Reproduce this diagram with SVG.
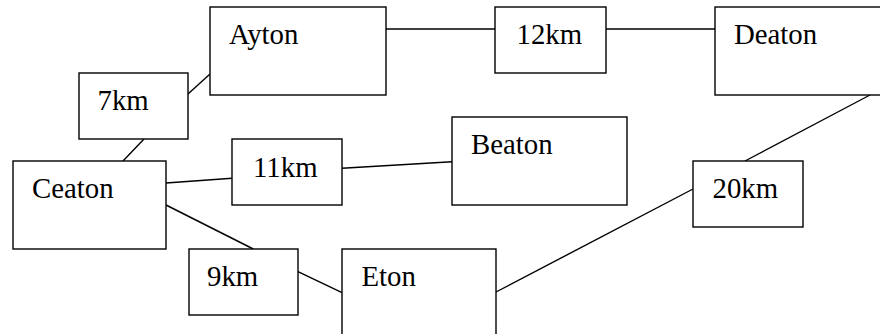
<svg xmlns="http://www.w3.org/2000/svg" width="880" height="334" viewBox="0 0 880 334">
<style>
rect{fill:#fff;stroke:#000;stroke-width:1.4}
line{stroke:#000;stroke-width:1.4}
text{font-family:"Liberation Serif","Times New Roman",serif;font-size:28.8px;fill:#000}
</style>
<rect x="0" y="0" width="880" height="334" style="stroke:none"/>
<g id="connectors">
<line x1="188" y1="94" x2="210" y2="74"/>
<line x1="144" y1="139" x2="123" y2="161"/>
<line x1="386" y1="29" x2="495" y2="29"/>
<line x1="606" y1="29" x2="715" y2="29"/>
<line x1="166" y1="183" x2="232" y2="178.3"/>
<line x1="342" y1="168.3" x2="452" y2="161.7"/>
<line x1="870" y1="95" x2="745" y2="161"/>
<line x1="693" y1="189" x2="496" y2="292"/>
<line x1="166" y1="205" x2="253.3" y2="249"/>
<line x1="298" y1="271.7" x2="342" y2="292.7"/>
</g>
<g id="ayton"><rect x="210" y="7" width="176" height="88"/><text x="229" y="44">Ayton</text></g>
<g id="deaton"><rect x="715" y="7" width="176" height="88"/><text x="734" y="44">Deaton</text></g>
<g id="km12"><rect x="495" y="7" width="111" height="66"/><text x="516.5" y="44">12km</text></g>
<g id="km7"><rect x="79" y="73" width="109" height="66"/><text x="97.5" y="110">7km</text></g>
<g id="beaton"><rect x="452" y="117" width="175" height="88"/><text x="471" y="154">Beaton</text></g>
<g id="km11"><rect x="232" y="139" width="110" height="66"/><text x="253" y="177">11km</text></g>
<g id="ceaton"><rect x="13" y="161" width="153" height="88"/><text x="32" y="198">Ceaton</text></g>
<g id="km20"><rect x="693" y="161" width="110" height="66"/><text x="712.5" y="198">20km</text></g>
<g id="km9"><rect x="189" y="249" width="109" height="66"/><text x="207" y="286">9km</text></g>
<g id="eton"><rect x="342" y="249" width="154" height="88"/><text x="361.5" y="286">Eton</text></g>
</svg>
